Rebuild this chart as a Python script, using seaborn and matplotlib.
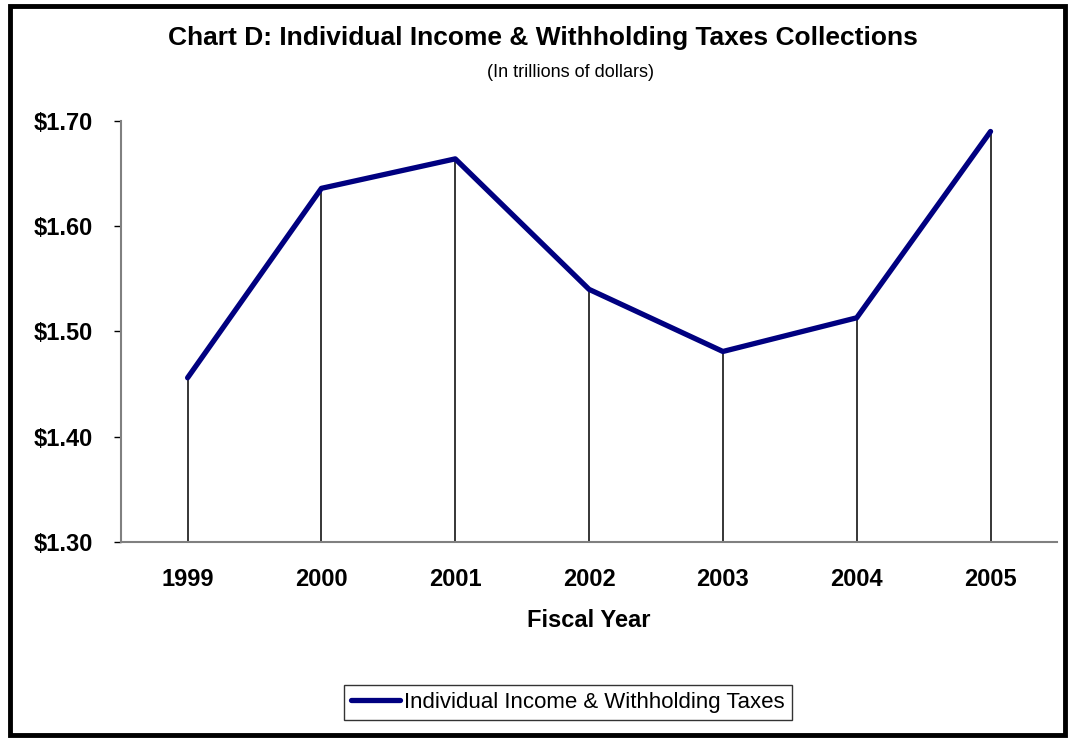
import matplotlib
matplotlib.use("Agg")
import matplotlib.pyplot as plt
import matplotlib.patches as patches
import seaborn as sns
import pandas as pd

years = ["1999", "2000", "2001", "2002", "2003", "2004", "2005"]
collections = [1.456, 1.636, 1.664, 1.540, 1.481, 1.513, 1.690]
yticks = [1.30, 1.40, 1.50, 1.60, 1.70]
series_name = "Individual Income & Withholding Taxes"

sns.set_theme(style="white")
plt.rcParams["font.family"] = ["Liberation Sans", "DejaVu Sans"]
plt.rcParams["text.color"] = "black"
plt.rcParams["axes.labelcolor"] = "black"
plt.rcParams["xtick.color"] = "black"
plt.rcParams["ytick.color"] = "black"

df = pd.DataFrame({"Fiscal Year": years, "Value": collections})

fig = plt.figure(figsize=(10.69, 7.38), dpi=100)
ax = fig.add_axes([0.1129, 0.2656, 0.8763, 0.5705])

pos = list(range(len(years)))
ax.vlines(pos, yticks[0], collections, colors="black", linewidth=1.1, zorder=1)
sns.lineplot(data=df, x="Fiscal Year", y="Value", ax=ax, color="#000080",
             linewidth=3.8, sort=False, label=series_name, zorder=3)

ax.set_xlim(-0.5, len(years) - 0.5)
ax.set_ylim(yticks[0], yticks[-1])
ax.set_yticks(yticks)
ax.set_yticklabels([f"${v:.2f}" for v in yticks], fontsize=17, fontweight="bold")
ax.set_xticks(pos)
ax.set_xticklabels(years, fontsize=17, fontweight="bold")
ax.tick_params(axis="x", length=0, pad=19)
ax.tick_params(axis="y", length=5, width=1, color="#000000", pad=15, left=True)
for s in ["top", "right"]:
    ax.spines[s].set_visible(False)
for s in ["left", "bottom"]:
    ax.spines[s].set_color("#808080")
    ax.spines[s].set_linewidth(1.5)
ax.set_ylabel("")
ax.set_xlabel("Fiscal Year", fontsize=17, fontweight="bold", labelpad=13)

fig.text(0.5075, 0.9485, "Chart D: Individual Income & Withholding Taxes Collections",
         ha="center", va="center", fontsize=19, fontweight="bold")
fig.text(0.534, 0.9024, "(In trillions of dollars)", ha="center", va="center", fontsize=13)

leg = ax.legend(loc="center", bbox_to_anchor=(568 / 1069, 1 - 702.5 / 738),
                bbox_transform=fig.transFigure, frameon=True, fancybox=False,
                fontsize=16, handlelength=2.2, handletextpad=0.2,
                borderpad=0.3, borderaxespad=0)
leg.get_frame().set_edgecolor("black")
leg.get_frame().set_linewidth(1.0)

border = patches.Rectangle((0.0089, 0.004), 0.9963 - 0.0089, 0.9925 - 0.004,
                           transform=fig.transFigure, fill=False,
                           edgecolor="black", linewidth=3.5)
fig.patches.append(border)

fig.savefig("out.png", dpi=100, facecolor="white")
